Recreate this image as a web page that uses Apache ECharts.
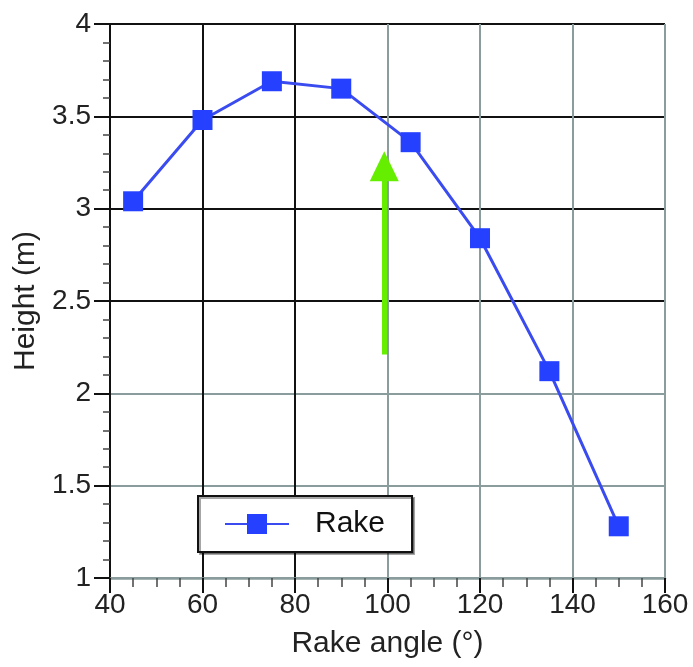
<!DOCTYPE html>
<html>
<head>
<meta charset="utf-8">
<script src="https://cdn.jsdelivr.net/npm/echarts@6/dist/echarts.min.js"></script>
<style>html,body{margin:0;padding:0;background:#fff}#c{width:693px;height:667px}</style>
</head>
<body>
<div id="c"></div>
<script>
const rakeAngles = [45, 60, 75, 90, 105, 120, 135, 150];
const heights = [3.04, 3.48, 3.69, 3.65, 3.36, 2.84, 2.12, 1.28];
const seriesName = 'Rake';
const xTitle = 'Rake angle (°)';
const yTitle = 'Height (m)';
const arrowX = 99.3;
const arrowFrom = 2.21;
const arrowTo = 3.23;

const FONT = '"Liberation Sans", Arial, Helvetica, sans-serif';
const DARK = '#111';
const GREY = '#8a9c9c';

const chart = echarts.init(document.getElementById('c'));
chart.setOption({
  animation: false,
  backgroundColor: '#fff',
  grid: { left: 110, right: 28, top: 24, bottom: 89, containLabel: false },
  legend: {
    data: [seriesName],
    left: 198, top: 496,
    orient: 'horizontal',
    backgroundColor: '#fff',
    borderColor: DARK, borderWidth: 2, borderRadius: 0,
    padding: [13, 27, 13, 26],
    itemWidth: 64, itemHeight: 25,
    shadowColor: 'rgba(0,0,0,0.35)', shadowOffsetX: 2, shadowOffsetY: 2, shadowBlur: 0,
    textStyle: { fontFamily: FONT, fontSize: 30, color: '#111', padding: [0, 0, 0, 21] }
  },
  xAxis: {
    type: 'value', min: 40, max: 160, interval: 20,
    name: xTitle, nameLocation: 'middle', nameGap: 51,
    nameTextStyle: { fontFamily: FONT, fontSize: 30, color: '#222' },
    axisLine: { show: true, lineStyle: { color: GREY, width: 2.5 } },
    axisTick: { show: true, inside: false, length: 15, lineStyle: { color: DARK, width: 2 } },
    minorTick: { show: true, splitNumber: 4, length: 9, lineStyle: { color: '#444', width: 1.5 } },
    axisLabel: { fontFamily: FONT, fontSize: 28, color: '#222', margin: 13 },
    splitLine: { show: true, lineStyle: { color: [DARK, DARK, DARK, GREY, GREY, GREY, GREY], width: 2 } }
  },
  yAxis: {
    type: 'value', min: 1, max: 4, interval: 0.5,
    name: yTitle, nameLocation: 'middle', nameGap: 68,
    nameTextStyle: { fontFamily: FONT, fontSize: 30, color: '#222' },
    axisLine: { show: true, lineStyle: { color: DARK, width: 2 } },
    axisTick: { show: true, inside: false, length: 16, lineStyle: { color: DARK, width: 2 } },
    minorTick: { show: true, splitNumber: 5, length: 7, lineStyle: { color: '#444', width: 1.5 } },
    axisLabel: { fontFamily: FONT, fontSize: 28, color: '#222', margin: 19 },
    splitLine: { show: true, lineStyle: { color: [GREY, GREY, GREY, DARK, DARK, DARK, DARK], width: 2 } }
  },
  series: [{
    name: seriesName,
    type: 'line',
    data: rakeAngles.map((x, i) => [x, heights[i]]),
    symbol: 'rect', symbolSize: 20,
    lineStyle: { color: '#3a4cf0', width: 3 },
    itemStyle: { color: '#2540ff' },
    z: 5,
    markLine: {
      silent: true,
      symbol: ['none', 'triangle'],
      symbolSize: [29, 30],
      label: { show: false },
      lineStyle: { color: '#66ee00', width: 5, type: 'solid' },
      data: [[{ coord: [arrowX, arrowFrom] }, { coord: [arrowX, arrowTo] }]]
    }
  }]
});
</script>
</body>
</html>
